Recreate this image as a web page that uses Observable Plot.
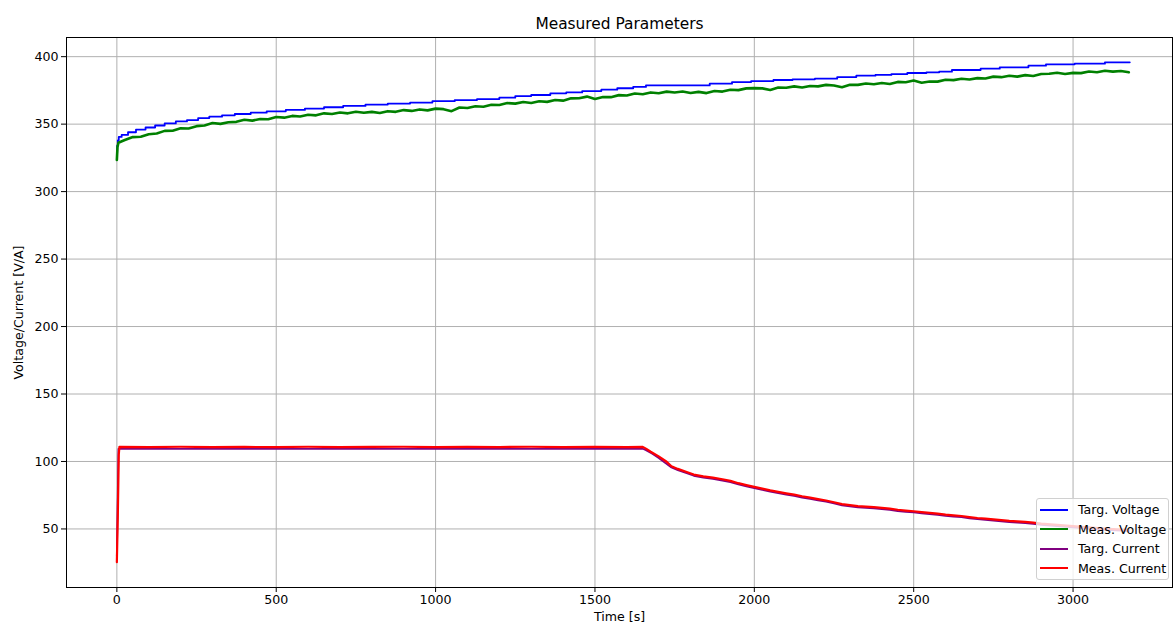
<!DOCTYPE html>
<html>
<head>
<meta charset="utf-8">
<script src="https://cdn.jsdelivr.net/npm/d3@7"></script>
<script src="https://cdn.jsdelivr.net/npm/@observablehq/plot@0.6"></script>
<style>
  body { margin: 0; background: #fff; font-family: "DejaVu Sans", sans-serif; }
  #wrap { position: relative; width: 1173px; height: 628px; }
  #legend { position: absolute; left: 1036px; top: 498px; width: 133px; height: 82px;
    background: rgba(255,255,255,0.8); border: 1px solid #d0d0d0; border-radius: 3px;
    box-sizing: border-box; font-size: 12.6px; color: #000; padding-top: 1px; white-space: nowrap; }
  .row { display: flex; align-items: center; height: 19.5px; white-space: nowrap; }
  .sw { width: 28px; height: 2px; margin-left: 3px; margin-right: 10px; flex: none; }
</style>
</head>
<body>
<div id="wrap"></div>
<script>
// ---- data ----
const xTicks = [0, 500, 1000, 1500, 2000, 2500, 3000];
const yTicks = [50, 100, 150, 200, 250, 300, 350, 400];
const seriesNames = ["Targ. Voltage", "Meas. Voltage", "Targ. Current", "Meas. Current"];
const seriesColors = ["blue", "green", "purple", "red"];

const targVoltT = [0, 1, 3, 6, 15, 35, 60, 90, 120, 150, 185, 220, 255, 290, 330, 370, 420, 470, 530, 590,
  650, 710, 780, 850, 920, 990, 1060, 1130, 1200, 1250, 1300, 1360, 1410, 1460, 1520, 1570, 1620, 1660, 1860, 1930,
  1990, 2060, 2120, 2190, 2260, 2320, 2380, 2430, 2480, 2540, 2580, 2620, 2710, 2770, 2860, 2915, 3005, 3100, 3178];
const targVoltV = [329, 334, 338, 340.5, 342, 344, 346, 347.5, 349, 350.5, 352, 353, 354.5, 355.5, 356.5, 357.5, 358.5, 359.5, 360.5, 361.5,
  362.5, 363.5, 364.5, 365.2, 366, 367, 367.8, 368.6, 369.6, 370.8, 371.6, 372.8, 373.5, 374.5, 375.5, 376.6, 377.6, 378.7, 380.0, 381.2,
  381.9, 382.7, 383.2, 383.7, 384.9, 385.9, 386.5, 387.1, 387.9, 388.4, 388.9, 390.1, 391.1, 392.1, 393.3, 394.3, 394.8, 395.8, 395.8];

const measVoltT = [0, 2, 5, 12, 25, 50, 75, 100, 125, 150, 175, 200, 225, 250, 275, 300, 325, 350, 375, 400,
  425, 450, 475, 500, 525, 550, 575, 600, 625, 650, 675, 700, 725, 750, 775, 800, 825, 850, 875, 900,
  925, 950, 975, 1000, 1025, 1050, 1075, 1100, 1125, 1150, 1175, 1200, 1225, 1250, 1275, 1300, 1325, 1350, 1375, 1400,
  1425, 1450, 1475, 1500, 1525, 1550, 1575, 1600, 1625, 1650, 1675, 1700, 1725, 1750, 1775, 1800, 1825, 1850, 1875, 1900,
  1925, 1950, 1975, 2000, 2025, 2050, 2075, 2100, 2125, 2150, 2175, 2200, 2225, 2250, 2275, 2300, 2325, 2350, 2375, 2400,
  2425, 2450, 2475, 2500, 2525, 2550, 2575, 2600, 2625, 2650, 2675, 2700, 2725, 2750, 2775, 2800, 2825, 2850, 2875, 2900,
  2925, 2950, 2975, 3000, 3025, 3050, 3075, 3100, 3125, 3150, 3175];
const measVoltV = [323.5, 333, 336.2, 336.9, 338.2, 340.4, 340.6, 342.5, 343.1, 345, 345.1, 346.9, 346.8, 348.5, 349, 350.8, 350.2, 351.4, 351.7, 353.3,
  352.6, 353.8, 353.6, 355.3, 354.8, 356.1, 355.6, 356.9, 356.5, 358, 357.5, 358.6, 358, 359.2, 358.4, 359.1, 358.2, 359.6, 359.1, 360.4,
  359.8, 360.9, 360.2, 361.5, 361.1, 359.6, 362.3, 361.9, 363.2, 362.9, 364.4, 364.2, 365.6, 365.2, 366.4, 365.7, 366.9, 366.5, 367.9, 367.4,
  369.1, 369.2, 370.4, 368.6, 370.1, 370, 371.5, 371.2, 372.7, 372.2, 373.5, 372.9, 374.1, 373.4, 374.2, 373.1, 373.9, 373, 374.5, 374.1,
  375.5, 375.2, 376.5, 376.7, 376.5, 375.3, 377.1, 377, 378, 377.1, 378.3, 378, 379.1, 378.6, 377.3, 379.2, 379.1, 380.1, 379.5, 380.5,
  379.8, 381.3, 381, 382.3, 380.7, 381.6, 381.5, 382.9, 382.6, 383.6, 383.1, 384.1, 383.8, 385.2, 384.8, 385.8, 385.2, 386.3, 385.7, 387.2,
  387.3, 388.1, 387.2, 388, 387.8, 389, 388.4, 389.5, 388.9, 389.4, 388.4];

const targCurrT = [0, 5, 1650, 1660, 1680, 1700, 1720, 1740, 1760, 1790, 1810, 1840, 1870, 1900, 1925, 1950, 1975, 2000, 2025, 2050,
  2075, 2100, 2125, 2150, 2175, 2200, 2225, 2250, 2275, 2300, 2325, 2350, 2375, 2400, 2425, 2450, 2475, 2500, 2525, 2550,
  2575, 2600, 2625, 2650, 2675, 2700, 2725, 2750, 2775, 2800, 2825, 2850, 2875, 2900, 2950, 3000, 3050, 3100, 3150, 3175];
const targCurrV = [30, 109.4, 109.4, 108.4, 105.8, 102.6, 99, 95.6, 93.6, 91.1, 89.4, 88.1, 87.1, 85.9, 84.7, 83, 81.6, 80.3, 79, 77.7,
  76.6, 75.5, 74.5, 73.3, 72.3, 71.2, 70.2, 68.9, 67.5, 66.7, 66, 65.7, 65.2, 64.7, 64.1, 63.3, 62.7, 62.2, 61.6, 61,
  60.4, 59.7, 59.2, 58.7, 57.9, 57.2, 56.7, 56.2, 55.7, 55.1, 54.7, 54.3, 53.8, 53.1, 52.1, 51.2, 50.3, 49.4, 48.7, 48.3];

const measCurrT = [0, 3, 6, 8, 100, 200, 300, 400, 500, 600, 700, 800, 900, 1000, 1100, 1200, 1300, 1400, 1500, 1600,
  1650, 1660, 1675, 1700, 1725, 1740, 1760, 1790, 1810, 1840, 1870, 1900, 1925, 1950, 1975, 2000, 2025, 2050, 2075, 2100,
  2125, 2150, 2175, 2200, 2225, 2250, 2275, 2300, 2325, 2350, 2375, 2400, 2425, 2450, 2475, 2500, 2525, 2550, 2575, 2600,
  2625, 2650, 2675, 2700, 2725, 2750, 2775, 2800, 2825, 2850, 2875, 2900, 2950, 3000, 3050, 3100, 3150, 3175];
const measCurrV = [25.3, 60, 105, 110.8, 110.6, 110.9, 110.7, 110.8, 110.6, 110.9, 110.7, 110.8, 110.9, 110.6, 110.8, 110.7, 110.9, 110.6, 110.8, 110.7,
  110.8, 109.5, 107.2, 103.8, 99.8, 96.5, 94.5, 92, 90.3, 89, 88, 86.8, 85.6, 83.9, 82.5, 81.2, 79.9, 78.6, 77.5, 76.4,
  75.4, 74.2, 73.2, 72.1, 71.1, 69.8, 68.4, 67.6, 66.9, 66.6, 66.1, 65.6, 65, 64.2, 63.6, 63.1, 62.5, 61.9, 61.3, 60.6,
  60.1, 59.6, 58.8, 58.1, 57.6, 57.1, 56.6, 56, 55.6, 55.2, 54.7, 54, 53, 52.1, 51.2, 50.3, 49.6, 49.2];

// ---- build tables ----
const toRows = (ts, vs) => ts.map((t, i) => ({t, v: vs[i]}));
const tv = toRows(targVoltT, targVoltV);
const mv = toRows(measVoltT, measVoltV);
const tc = toRows(targCurrT, targCurrV);
const mc = toRows(measCurrT, measCurrV);

const chart = Plot.plot({
  width: 1173,
  height: 628,
  marginTop: 37,
  marginBottom: 41,
  marginLeft: 66,
  marginRight: 1,
  style: {fontFamily: "DejaVu Sans, sans-serif", fontSize: "12.6px", background: "white", color: "black"},
  x: {domain: [-158, 3312]},
  y: {domain: [6.6, 414.2]},
  marks: [
    Plot.gridX(xTicks, {stroke: "#b0b0b0", strokeOpacity: 1, strokeWidth: 1}),
    Plot.gridY(yTicks, {stroke: "#b0b0b0", strokeOpacity: 1, strokeWidth: 1}),
    Plot.line(tv, {x: "t", y: "v", stroke: seriesColors[0], strokeWidth: 1.8, curve: "step-after"}),
    Plot.line(mv, {x: "t", y: "v", stroke: seriesColors[1], strokeWidth: 2.6, strokeLinejoin: "round"}),
    Plot.line(tc, {x: "t", y: "v", stroke: seriesColors[2], strokeWidth: 1.8}),
    Plot.line(mc, {x: "t", y: "v", stroke: seriesColors[3], strokeWidth: 2.2}),
    Plot.frame({stroke: "black", strokeWidth: 1}),
    Plot.axisX(xTicks, {tickSize: 5, tickPadding: 3, label: null, fontSize: 12.6, tickFormat: d => String(d)}),
    Plot.axisY(yTicks, {tickSize: 5, tickPadding: 3, label: null, fontSize: 12.6, tickFormat: d => String(d)}),
    Plot.text(["Measured Parameters"], {text: d => d, frameAnchor: "top", dy: -19, fontSize: 15.4}),
    Plot.text(["Time [s]"], {text: d => d, frameAnchor: "bottom", dy: 33, fontSize: 12.6}),
    Plot.text(["Voltage/Current [V/A]"], {text: d => d, frameAnchor: "left", textAnchor: "middle", dx: -48, rotate: -90, fontSize: 12.6})
  ]
});

const wrap = document.getElementById("wrap");
wrap.appendChild(chart);
const legend = document.createElement("div");
legend.id = "legend";
seriesNames.forEach((name, i) => {
  const row = document.createElement("div");
  row.className = "row";
  const sw = document.createElement("span");
  sw.className = "sw";
  sw.style.background = seriesColors[i];
  const lab = document.createElement("span");
  lab.textContent = name;
  row.appendChild(sw);
  row.appendChild(lab);
  legend.appendChild(row);
});
wrap.appendChild(legend);
</script>
</body>
</html>
